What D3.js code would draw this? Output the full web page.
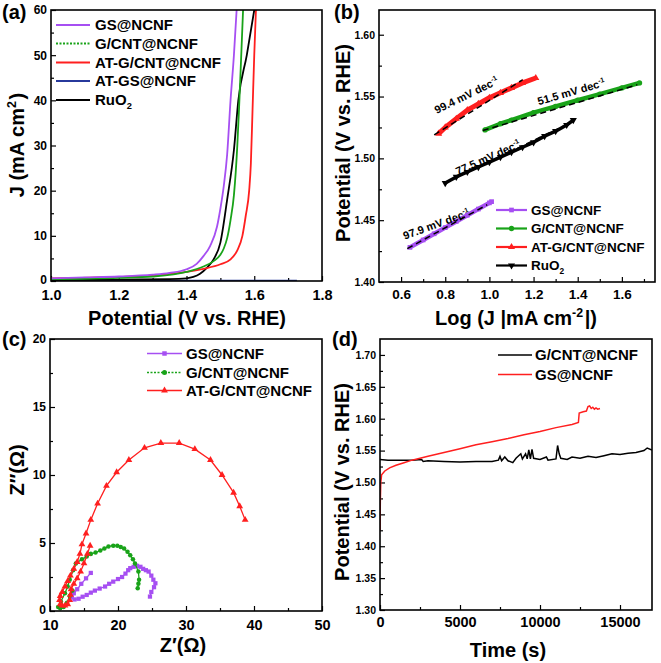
<!DOCTYPE html>
<html><head><meta charset="utf-8">
<script src="https://cdn.jsdelivr.net/npm/d3@7"></script>
<style>body{margin:0;background:#fff}svg{display:block}</style>
</head><body>
<script>
// ---------- Panel (a) LSV data ----------
const lsvV_GS   = [1.0,1.1,1.2,1.3,1.35,1.4,1.43,1.45,1.47,1.49,1.5,1.51,1.52,1.53,1.54,1.548];
const lsvJ_GS   = [0.6,0.8,1.0,1.4,1.8,2.6,3.8,5.5,7.8,12,16,21,28,40,50,60];
const lsvV_GCNT = [1.0,1.2,1.3,1.4,1.45,1.48,1.5,1.51,1.52,1.53,1.54,1.55,1.555,1.56,1.567];
const lsvJ_GCNT = [0.4,0.7,1.0,2.0,3.2,4.4,5.8,7.2,9.5,13.5,19,30,38,47,60];
const lsvV_AT   = [1.0,1.2,1.3,1.4,1.45,1.5,1.53,1.55,1.565,1.575,1.585,1.59,1.595,1.6,1.605];
const lsvJ_AT   = [0.6,0.9,1.2,2.0,2.7,3.7,4.8,6.8,10,14.5,20,26,38,50,60];
const lsvV_ATGS = [1.0,1.2,1.4,1.6,1.726];
const lsvJ_ATGS = [0.05,0.05,0.05,0.07,0.07];
const lsvV_RuO2 = [1.0,1.2,1.35,1.4,1.42,1.44,1.46,1.48,1.5,1.52,1.54,1.553,1.578,1.6];
const lsvJ_RuO2 = [0.2,0.3,0.4,0.6,0.9,1.6,2.9,4.8,8.5,18,29,40,50,60];
const aXTicks = [1.0,1.2,1.4,1.6,1.8];
const aYTicks = [0,10,20,30,40,50,60];

// ---------- Panel (b) Tafel data ----------
const tafX_GS   = [0.64,0.7,0.75,0.8,0.85,0.9,0.95,1.0,1.01];
const tafY_GS   = [1.428,1.434,1.439,1.444,1.449,1.454,1.459,1.464,1.465];
const tafX_GCNT = [0.98,1.05,1.1,1.2,1.3,1.4,1.5,1.6,1.68];
const tafY_GCNT = [1.523,1.528,1.531,1.537,1.542,1.547,1.552,1.557,1.561];
const tafX_AT   = [0.77,0.8,0.85,0.9,0.95,1.0,1.05,1.1,1.15,1.21];
const tafY_AT   = [1.520,1.525,1.532,1.539,1.544,1.549,1.553,1.557,1.561,1.565];
const tafX_RuO2 = [0.8,0.85,0.9,0.95,1.0,1.05,1.1,1.15,1.2,1.25,1.3,1.35,1.38];
const tafY_RuO2 = [1.480,1.485,1.489,1.493,1.497,1.501,1.505,1.509,1.513,1.518,1.522,1.527,1.531];
const fitX_GS = [0.628,0.99],  fitY_GS = [1.427,1.4625];
const fitX_GCNT = [0.97,1.67], fitY_GCNT = [1.5225,1.5595];
const fitX_AT = [0.75,1.15],   fitY_AT = [1.519,1.5635];
const fitX_RuO2 = [0.8,1.38],  fitY_RuO2 = [1.480,1.530];
const slopeLabels = ["99.4","51.5","77.5","97.9"];
const bXTicks = [0.6,0.8,1.0,1.2,1.4,1.6];
const bYTicks = [1.40,1.45,1.50,1.55,1.60];

// ---------- Panel (c) Nyquist data ----------
const nyqRe_GS   = [16.0,15.3,14.6,14.0,13.5,13.2,13.6,14.2,14.8,15.4,16.0,16.6,17.3,18.1,18.7,19.3,20.0,20.6,21.1,21.5,21.8,22.3,22.8,23.3,23.7,24.1,24.5,24.9,25.2,25.5,25.3,24.9,24.7];
const nyqIm_GS   = [2.8,2.4,2.0,1.6,1.3,1.0,0.85,0.9,1.05,1.18,1.35,1.5,1.65,1.8,2.0,2.16,2.35,2.5,2.75,3.0,3.15,3.25,3.32,3.25,3.1,3.0,2.9,2.6,2.3,2.04,1.75,1.4,1.06];
const nyqRe_GCNT = [13.3,12.9,12.5,12.0,11.5,11.2,11.6,12.2,12.6,12.9,13.4,13.8,14.7,15.4,16.0,16.7,17.4,18.0,18.6,19.3,19.9,20.4,20.9,21.4,21.8,22.2,22.5,23.0,23.1,23.0,22.9];
const nyqIm_GCNT = [1.5,1.1,0.6,0.3,0.2,0.3,0.7,1.3,1.8,2.3,3.0,3.5,3.8,4.0,4.2,4.3,4.45,4.6,4.75,4.8,4.8,4.7,4.6,4.35,4.1,3.8,3.5,2.9,2.3,2.0,1.67];
const nyqRe_AT   = [15.9,15.5,15.0,14.5,14.0,13.5,13.1,13.0,12.9,12.6,12.2,11.8,11.5,11.4,11.5,11.8,12.2,12.6,13.0,13.5,14.0,14.4,14.7,15.3,16.0,17.0,18.3,19.8,21.6,23.9,26.3,29.0,31.3,33.6,35.3,37.0,37.9,38.7];
const nyqIm_AT   = [4.8,4.2,3.5,2.9,2.4,2.0,1.6,1.2,0.8,0.5,0.4,0.4,0.5,0.8,1.1,1.4,1.8,2.2,2.6,3.1,3.6,4.2,4.9,5.7,6.7,7.9,9.2,10.2,11.1,12.0,12.35,12.35,11.9,11.1,10.0,8.7,7.7,6.7];
const cXTicks = [10,20,30,40,50];
const cYTicks = [0,5,10,15,20];

// ---------- Panel (d) chronopotentiometry data ----------
const cpT_GCNT = [0,500,1000,2000,2600,2700,3000,4000,5000,6000,7000,7400,7500,7600,7800,8000,8300,8500,8800,8900,9100,9200,9300,9400,9500,9600,10000,10400,10500,11000,11100,11200,11300,11700,12000,12500,13000,13500,14000,14500,15000,15500,16000,16500,16700,17000];
const cpE_GCNT = [1.536,1.535,1.535,1.535,1.536,1.533,1.534,1.533,1.532,1.533,1.533,1.535,1.541,1.534,1.540,1.534,1.531,1.538,1.545,1.537,1.545,1.537,1.551,1.537,1.552,1.538,1.536,1.540,1.535,1.537,1.558,1.545,1.538,1.536,1.540,1.538,1.541,1.539,1.542,1.545,1.544,1.546,1.547,1.550,1.554,1.551];
const cpT_GS = [0,20,50,100,300,600,1000,1500,2000,3000,4000,5000,6000,7000,8000,9000,10000,11000,12000,12400,12450,12700,12900,13000,13100,13200,13300,13400,13500,13600,13750];
const cpE_GS = [1.425,1.47,1.50,1.512,1.518,1.523,1.527,1.531,1.535,1.541,1.547,1.553,1.559,1.564,1.569,1.575,1.580,1.586,1.591,1.594,1.609,1.611,1.612,1.619,1.620,1.616,1.618,1.615,1.617,1.615,1.616];
const dXTicks = [0,5000,10000,15000];
const dYTicks = [1.30,1.35,1.40,1.45,1.50,1.55,1.60,1.65,1.70];

// ---------- styling ----------
const FONT = '"Liberation Sans", Arial, Helvetica, sans-serif';
const C_PUR = "#a64ff2", C_GRN = "#19a319", C_RED = "#ff1f1f", C_BLU = "#27399c", C_BLK = "#000000";

const svg = d3.select("body").append("svg").attr("width",661).attr("height",663)
  .style("font-family",FONT).style("font-weight","bold");

const zip = (a,b) => a.map((v,i)=>[v,b[i]]);
function minorOf(ticks){ const s=ticks[1]-ticks[0]; const out=[]; for(let i=0;i<ticks.length;i++){out.push(ticks[i]+s/2);} return out; }

function makePanel(p){
  const x = d3.scaleLinear().domain(p.xd).range([p.l,p.r]);
  const y = d3.scaleLinear().domain(p.yd).range([p.b,p.t]);
  const g = svg.append("g");
  const cid = "clip-"+p.key;
  g.append("clipPath").attr("id",cid).append("rect")
    .attr("x",p.l).attr("y",p.t).attr("width",p.r-p.l).attr("height",p.b-p.t);
  const styl = (s,fs)=>{ s.select(".domain").remove(); s.attr("font-family",FONT).attr("font-weight","bold").attr("font-size",fs);
    s.selectAll("line").attr("stroke-width",1.2); s.selectAll("text").attr("fill","#000"); };
  const xm = minorOf(p.xt).filter(v=>v>p.xd[0]&&v<p.xd[1]);
  const ym = minorOf(p.yt).filter(v=>v>p.yd[0]&&v<p.yd[1]);
  g.append("g").attr("transform",`translate(0,${p.b})`)
    .call(d3.axisBottom(x).tickValues(xm).tickFormat("").tickSizeInner(-3).tickSizeOuter(0)).call(s=>styl(s,10));
  g.append("g").attr("transform",`translate(0,${p.b})`)
    .call(d3.axisBottom(x).tickValues(p.xt).tickFormat(p.xf).tickSizeInner(-5).tickSizeOuter(0).tickPadding(p.xpad||6)).call(s=>styl(s,p.xfs));
  g.append("g").attr("transform",`translate(${p.l},0)`)
    .call(d3.axisLeft(y).tickValues(ym).tickFormat("").tickSizeInner(-3).tickSizeOuter(0)).call(s=>styl(s,10));
  const ya = g.append("g").attr("transform",`translate(${p.l},0)`)
    .call(d3.axisLeft(y).tickValues(p.yt).tickFormat(p.yf).tickSizeInner(-5).tickSizeOuter(0).tickPadding(4)).call(s=>styl(s,p.yfs));
  if(p.lift0) ya.selectAll("text").filter(d=>d===p.yd[0]).attr("dy","0.18em");
  const plot = g.append("g").attr("clip-path",`url(#${cid})`);
  g.append("rect").attr("x",p.l).attr("y",p.t).attr("width",p.r-p.l).attr("height",p.b-p.t)
    .attr("fill","none").attr("stroke","#000").attr("stroke-width",1.6);
  return {x,y,g,plot};
}

function label(txt,x,y,fs){ svg.append("text").attr("x",x).attr("y",y).attr("font-size",fs).text(txt); }
function xTitle(parts,cx,cy,fs){
  const t = svg.append("text").attr("x",cx).attr("y",cy).attr("dy","0.35em").attr("text-anchor","middle").attr("font-size",fs);
  addParts(t,parts,fs);
}
function yTitle(parts,cx,cy,fs){
  const t = svg.append("text").attr("transform",`translate(${cx},${cy}) rotate(-90)`).attr("dy","0.35em").attr("text-anchor","middle").attr("font-size",fs);
  addParts(t,parts,fs);
}
function addParts(t,parts,fs){
  parts.forEach(pt=>{
    if(typeof pt==="string"){ t.append("tspan").text(pt); }
    else if(pt.sup){ t.append("tspan").attr("dy",-fs*0.4).attr("font-size",fs*0.62).text(pt.sup);
                     t.append("tspan").attr("dy",fs*0.4).text("\u200a"); }
    else if(pt.sub){ t.append("tspan").attr("dy",fs*0.25).attr("font-size",fs*0.62).text(pt.sub);
                     t.append("tspan").attr("dy",-fs*0.25).text("\u200a"); }
  });
}

// ================= Panel (a) =================
{
  const P = makePanel({key:"a",l:51,r:322,t:10,b:281,xd:[1.0,1.8],yd:[0,60],
    xt:aXTicks,yt:aYTicks,xf:d3.format(".1f"),yf:d3.format("d"),xfs:14.5,yfs:12,xpad:9,lift0:true});
  const line = d3.line().x(d=>P.x(d[0])).y(d=>P.y(d[1])).curve(d3.curveMonotoneX);
  const series = [
    {v:lsvV_ATGS,j:lsvJ_ATGS,c:C_BLU,n:"AT-GS@NCNF"},
    {v:lsvV_RuO2,j:lsvJ_RuO2,c:C_BLK,n:"RuO2"},
    {v:lsvV_AT,j:lsvJ_AT,c:C_RED,n:"AT-G/CNT@NCNF"},
    {v:lsvV_GCNT,j:lsvJ_GCNT,c:C_GRN,n:"G/CNT@NCNF"},
    {v:lsvV_GS,j:lsvJ_GS,c:C_PUR,n:"GS@NCNF"}];
  series.forEach(s=>P.plot.append("path").attr("d",line(zip(s.v,s.j))).attr("fill","none").attr("stroke",s.c).attr("stroke-width",1.8));
  const leg = [["GS@NCNF",C_PUR,null],["G/CNT@NCNF",C_GRN,"2,1.5"],["AT-G/CNT@NCNF",C_RED,null],["AT-GS@NCNF",C_BLU,null],["RuO",C_BLK,null]];
  const ly = [25,43.5,62.5,81,100];
  leg.forEach((d,i)=>{
    svg.append("line").attr("x1",56).attr("x2",90).attr("y1",ly[i]).attr("y2",ly[i]).attr("stroke",d[1]).attr("stroke-width",2).attr("stroke-dasharray",d[2]);
    const t = svg.append("text").attr("x",95).attr("y",ly[i]).attr("dy","0.35em").attr("font-size",15);
    addParts(t, i===4?["RuO",{sub:"2"}]:[d[0]],15);
  });
  label("(a)",2,19,20);
  xTitle(["Potential (V vs. RHE)"],187,318,20);
  yTitle(["J (mA cm",{sup:"2"},")"],17,145,20);
}

// ================= Panel (b) =================
{
  const P = makePanel({key:"b",l:379,r:655,t:10,b:282,xd:[0.5,1.75],yd:[1.40,1.62],
    xt:bXTicks,yt:bYTicks,xf:d3.format(".1f"),yf:d3.format(".2f"),xfs:13.5,yfs:10.5,xpad:7});
  const line = d3.line().x(d=>P.x(d[0])).y(d=>P.y(d[1]));
  const series = [
    {x:tafX_GS,y:tafY_GS,c:C_PUR,s:d3.symbolSquare,w:4.5},
    {x:tafX_GCNT,y:tafY_GCNT,c:C_GRN,s:d3.symbolCircle,w:4.5},
    {x:tafX_AT,y:tafY_AT,c:C_RED,s:d3.symbolTriangle,w:5},
    {x:tafX_RuO2,y:tafY_RuO2,c:C_BLK,s:d3.symbolTriangle,w:3.5,rot:180}];
  series.forEach(s=>{
    const pts = zip(s.x,s.y);
    P.plot.append("path").attr("d",line(pts)).attr("fill","none").attr("stroke",s.c).attr("stroke-width",s.w).attr("stroke-linejoin","round");
    P.plot.selectAll(null).data(pts).enter().append("path").attr("d",d3.symbol(s.s,22))
      .attr("transform",d=>`translate(${P.x(d[0])},${P.y(d[1])})${s.rot?" rotate(180)":""}`).attr("fill",s.c);
  });
  const fits = [[fitX_AT,fitY_AT],[fitX_GCNT,fitY_GCNT],[fitX_RuO2,fitY_RuO2],[fitX_GS,fitY_GS]];
  fits.forEach(f=>P.plot.append("path").attr("d",line(zip(f[0],f[1]))).attr("fill","none").attr("stroke","#000").attr("stroke-width",1.5).attr("stroke-dasharray","6,4"));
  const ann = [[466.7,95,-26],[571.7,91.7,-16],[488.3,157.3,-24],[436.7,224,-20]];
  ann.forEach((a,i)=>{
    const t = svg.append("text").attr("transform",`translate(${a[0]},${a[1]}) rotate(${a[2]})`).attr("text-anchor","middle").attr("dy","0.35em").attr("font-size",11);
    addParts(t,[slopeLabels[i]+" mV dec",{sup:"-1"}],11);
  });
  const leg = [["GS@NCNF",C_PUR,d3.symbolSquare,0],["G/CNT@NCNF",C_GRN,d3.symbolCircle,0],["AT-G/CNT@NCNF",C_RED,d3.symbolTriangle,0],["RuO",C_BLK,d3.symbolTriangle,180]];
  const ly = [210,228.5,247,265.5];
  leg.forEach((d,i)=>{
    svg.append("line").attr("x1",496).attr("x2",527).attr("y1",ly[i]).attr("y2",ly[i]).attr("stroke",d[1]).attr("stroke-width",2.2);
    svg.append("path").attr("d",d3.symbol(d[2],22)).attr("transform",`translate(511.5,${ly[i]}) rotate(${d[3]})`).attr("fill",d[1]);
    const t = svg.append("text").attr("x",531).attr("y",ly[i]).attr("dy","0.35em").attr("font-size",13.5);
    addParts(t, i===3?["RuO",{sub:"2"}]:[d[0]],13.5);
  });
  label("(b)",334,19,20);
  xTitle(["Log (J |mA cm",{sup:"-2"},"|)"],516,318,20);
  yTitle(["Potential (V vs. RHE)"],343,143,20);
}

// ================= Panel (c) =================
{
  const P = makePanel({key:"c",l:50,r:322,t:339,b:611,xd:[10,50],yd:[0,20],
    xt:cXTicks,yt:cYTicks,xf:d3.format("d"),yf:d3.format("d"),xfs:14.5,yfs:12,xpad:9,lift0:true});
  const line = d3.line().x(d=>P.x(d[0])).y(d=>P.y(d[1]));
  const series = [
    {x:nyqRe_GS,y:nyqIm_GS,c:C_PUR,s:d3.symbolSquare,sz:18},
    {x:nyqRe_GCNT,y:nyqIm_GCNT,c:C_GRN,s:d3.symbolCircle,sz:16},
    {x:nyqRe_AT,y:nyqIm_AT,c:C_RED,s:d3.symbolTriangle,sz:20}];
  series.forEach(s=>{
    const pts = zip(s.x,s.y);
    P.plot.append("path").attr("d",line(pts)).attr("fill","none").attr("stroke",s.c).attr("stroke-width",1.3);
    P.plot.selectAll(null).data(pts).enter().append("path").attr("d",d3.symbol(s.s,s.sz))
      .attr("transform",d=>`translate(${P.x(d[0])},${P.y(d[1])})`).attr("fill",s.c);
  });
  const leg = [["GS@NCNF",C_PUR,d3.symbolSquare,null],["G/CNT@NCNF",C_GRN,d3.symbolCircle,"2,1.5"],["AT-G/CNT@NCNF",C_RED,d3.symbolTriangle,null]];
  const ly = [353.5,372.5,390.5];
  leg.forEach((d,i)=>{
    svg.append("line").attr("x1",147).attr("x2",182).attr("y1",ly[i]).attr("y2",ly[i]).attr("stroke",d[1]).attr("stroke-width",1.5).attr("stroke-dasharray",d[3]);
    svg.append("path").attr("d",d3.symbol(d[2],20)).attr("transform",`translate(164.5,${ly[i]})`).attr("fill",d[1]);
    svg.append("text").attr("x",186).attr("y",ly[i]).attr("dy","0.35em").attr("font-size",15).text(d[0]);
  });
  label("(c)",2,346,20);
  xTitle(["Z\u2032(\u03A9)"],183,645,20);
  yTitle(["Z\u2033(\u03A9)"],17,470,20);
}

// ================= Panel (d) =================
{
  const P = makePanel({key:"d",l:380,r:652,t:339,b:610,xd:[0,17000],yd:[1.30,1.725],
    xt:dXTicks,yt:dYTicks,xf:d3.format("d"),yf:d3.format(".2f"),xfs:14.5,yfs:10.5,xpad:7});
  const line = d3.line().x(d=>P.x(d[0])).y(d=>P.y(d[1]));
  P.plot.append("path").attr("d",line(zip(cpT_GCNT,cpE_GCNT))).attr("fill","none").attr("stroke",C_BLK).attr("stroke-width",1.5);
  P.plot.append("path").attr("d",line(zip(cpT_GS,cpE_GS))).attr("fill","none").attr("stroke",C_RED).attr("stroke-width",1.5);
  const leg = [["G/CNT@NCNF",C_BLK],["GS@NCNF",C_RED]];
  const ly = [355,374.5];
  leg.forEach((d,i)=>{
    svg.append("line").attr("x1",498).attr("x2",532).attr("y1",ly[i]).attr("y2",ly[i]).attr("stroke",d[1]).attr("stroke-width",1.6);
    svg.append("text").attr("x",535).attr("y",ly[i]).attr("dy","0.35em").attr("font-size",15).text(d[0]);
  });
  label("(d)",332,346,20);
  xTitle(["Time (s)"],508,650,20);
  yTitle(["Potential (V vs. RHE)"],342,482,20);
}
</script>
</body></html>
